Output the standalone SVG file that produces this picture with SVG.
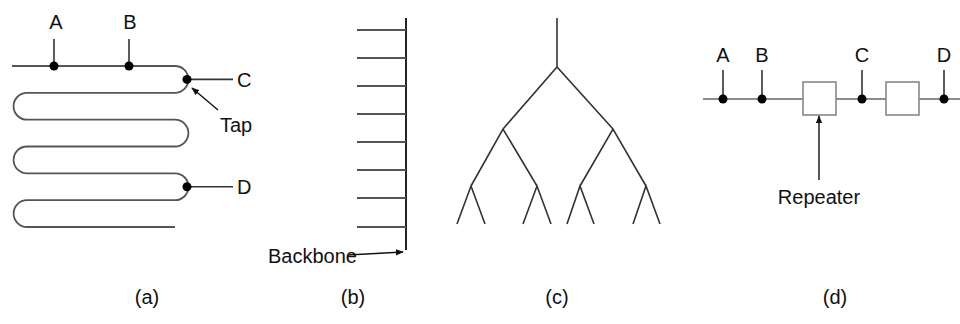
<svg xmlns="http://www.w3.org/2000/svg" width="960" height="324" viewBox="0 0 960 324">
<defs>
<style>
text{font-family:"Liberation Sans",Arial,sans-serif;font-size:20px;fill:#111}
.c{text-anchor:middle}
.cable{fill:none;stroke:#555;stroke-width:1.8}
.tap{stroke:#333;stroke-width:1.6}
.dot{fill:#000}
.tree{fill:none;stroke:#333;stroke-width:1.6}
.box{fill:#fff;stroke:#888;stroke-width:1.6}
.arr{stroke:#111;stroke-width:1.4;fill:none}
</style>
<marker id="ah" viewBox="0 0 10 10" refX="9" refY="5" markerWidth="8" markerHeight="8" orient="auto" markerUnits="userSpaceOnUse">
<path d="M0,1 L10,5 L0,9 Z" fill="#111"/>
</marker>
</defs>
<rect width="960" height="324" fill="#fff"/>

<g id="panel-a">
<path class="cable" d="M12,66 H175 A13.4,13.4 0 0 1 175,92.8 H27 A13.4,13.4 0 0 0 27,119.7 H175 A13.4,13.4 0 0 1 175,146.5 H27 A13.4,13.4 0 0 0 27,173.3 H175 A13.4,13.4 0 0 1 175,200.2 H27 A13.4,13.4 0 0 0 27,227 H175"/>
<g id="tapA"><line class="tap" x1="54" y1="39" x2="54" y2="66"/><circle class="dot" cx="54" cy="66" r="4.5"/><text class="c" x="56" y="29">A</text></g>
<g id="tapB"><line class="tap" x1="129" y1="39" x2="129" y2="66"/><circle class="dot" cx="129" cy="66" r="4.5"/><text class="c" x="130" y="29">B</text></g>
<g id="tapC"><line class="tap" x1="188" y1="79.4" x2="233" y2="79.4"/><circle class="dot" cx="187" cy="79.4" r="4.5"/><text x="237" y="87">C</text></g>
<g id="tapD"><line class="tap" x1="188" y1="186.7" x2="233" y2="186.7"/><circle class="dot" cx="187" cy="186.7" r="4.5"/><text x="237" y="194">D</text></g>
<g id="tapLabel"><line class="arr" x1="218" y1="110" x2="192" y2="88" marker-end="url(#ah)"/><text x="220" y="132">Tap</text></g>
</g>

<g id="panel-b">
<line x1="406" y1="18" x2="406" y2="250" stroke="#222" stroke-width="2"/>
<g stroke="#555" stroke-width="2">
<line x1="357" y1="30" x2="406" y2="30"/>
<line x1="357" y1="58" x2="406" y2="58"/>
<line x1="357" y1="86" x2="406" y2="86"/>
<line x1="357" y1="114" x2="406" y2="114"/>
<line x1="357" y1="142" x2="406" y2="142"/>
<line x1="357" y1="170" x2="406" y2="170"/>
<line x1="357" y1="198" x2="406" y2="198"/>
<line x1="357" y1="227" x2="406" y2="227"/>
</g>
<g id="backboneLabel"><text x="268" y="263">Backbone</text><line class="arr" x1="348" y1="255" x2="403" y2="252" marker-end="url(#ah)"/></g>
</g>

<g id="panel-c">
<path class="tree" d="M557,18 V67 M503,129 L557,67 L613,129 M471,186 L503,129 L537,186 M580,186 L613,129 L646,186 M457,224 L471,186 L485,224 M523,224 L537,186 L551,224 M567,224 L580,186 L594,224 M633,224 L646,186 L660,224"/>
</g>

<g id="panel-d">
<line x1="703" y1="99" x2="960" y2="99" stroke="#666" stroke-width="1.6"/>
<g id="repeater1"><rect class="box" x="803" y="82" width="33" height="33"/></g>
<g id="repeater2"><rect class="box" x="886" y="82" width="33" height="33"/></g>
<g id="dA"><line class="tap" x1="723" y1="70" x2="723" y2="99"/><circle class="dot" cx="723" cy="99" r="4.5"/><text class="c" x="723" y="62">A</text></g>
<g id="dB"><line class="tap" x1="762" y1="70" x2="762" y2="99"/><circle class="dot" cx="762" cy="99" r="4.5"/><text class="c" x="762" y="62">B</text></g>
<g id="dC"><line class="tap" x1="862" y1="70" x2="862" y2="99"/><circle class="dot" cx="862" cy="99" r="4.5"/><text class="c" x="862" y="62">C</text></g>
<g id="dD"><line class="tap" x1="944" y1="70" x2="944" y2="99"/><circle class="dot" cx="944" cy="99" r="4.5"/><text class="c" x="944" y="62">D</text></g>
<g id="repeaterLabel"><line class="arr" x1="819" y1="180" x2="819" y2="116" marker-end="url(#ah)"/><text class="c" x="819" y="204">Repeater</text></g>
</g>

<g id="captions">
<text class="c" x="147" y="304">(a)</text>
<text class="c" x="353" y="304">(b)</text>
<text class="c" x="557" y="304">(c)</text>
<text class="c" x="835" y="304">(d)</text>
</g>
</svg>
